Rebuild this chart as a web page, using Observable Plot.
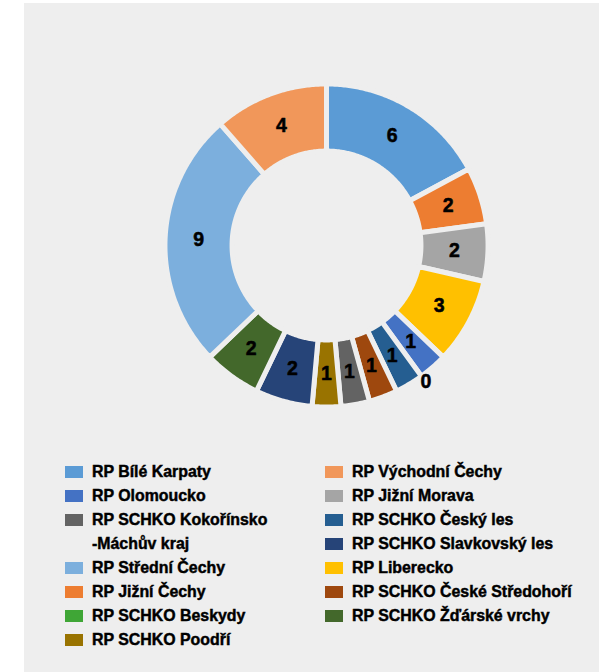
<!DOCTYPE html>
<html><head><meta charset="utf-8">
<script src="https://cdn.jsdelivr.net/npm/d3@7"></script>
<script src="https://cdn.jsdelivr.net/npm/@observablehq/plot@0.6"></script>
<style>
body{margin:0;background:#fff;width:601px;height:672px;overflow:hidden;position:relative;font-family:"Liberation Sans",Arial,sans-serif;}
#panel{position:absolute;left:24px;top:3px;width:575px;height:669px;background:#eeeeee;}
#chart{position:absolute;left:0;top:0;}
.col{position:absolute;top:460px;}
.item{display:flex;align-items:flex-start;font-weight:bold;font-size:15.9px;line-height:24px;color:#000;white-space:pre;-webkit-text-stroke:0.45px #000;}
.sw{width:18px;height:12px;margin-top:6px;margin-right:9px;flex:none;}
</style></head><body>
<div id="panel"></div><div id="chart"></div>
<div class="col" id="legL" style="left:65px"></div>
<div class="col" id="legR" style="left:325px"></div>
<script>
const categories = ["RP Bílé Karpaty","RP Jižní Čechy","RP Jižní Morava","RP Liberecko","RP Olomoucko","RP SCHKO Beskydy","RP SCHKO Český les","RP SCHKO České Středohoří","RP SCHKO Kokořínsko\n-Máchův kraj","RP SCHKO Poodří","RP SCHKO Slavkovský les","RP SCHKO Žďárské vrchy","RP Střední Čechy","RP Východní Čechy"];
const values = [6,2,2,3,1,0,1,1,1,1,2,2,9,4];
const colors = ["#5B9BD5","#ED7D31","#A5A5A5","#FFC000","#4472C4","#3FA636","#255E91","#9E480E","#636363","#997300","#264478","#43682B","#7CAFDD","#F1975A"];
const legendLeft = ["RP Bílé Karpaty","RP Olomoucko","RP SCHKO Kokořínsko\n-Máchův kraj","RP Střední Čechy","RP Jižní Čechy","RP SCHKO Beskydy","RP SCHKO Poodří"];
const legendRight = ["RP Východní Čechy","RP Jižní Morava","RP SCHKO Český les","RP SCHKO Slavkovský les","RP Liberecko","RP SCHKO České Středohoří","RP SCHKO Žďárské vrchy"];

const total = d3.sum(values);
let acc = 0;
const slices = categories.map((name, i) => {
  const a0 = acc / total * 2 * Math.PI; acc += values[i];
  const a1 = acc / total * 2 * Math.PI;
  return {name, value: values[i], a0, a1};
});
const R_OUT = 1.016, R_IN = 0.594;
const poly = [];
slices.filter(s => s.value > 0).forEach(s => {
  const n = Math.max(2, Math.ceil((s.a1 - s.a0) / 0.01));
  for (let k = 0; k <= n; k++) { const a = s.a0 + (s.a1 - s.a0) * k / n; poly.push({name: s.name, x: R_OUT * Math.sin(a), y: R_OUT * Math.cos(a)}); }
  for (let k = n; k >= 0; k--) { const a = s.a0 + (s.a1 - s.a0) * k / n; poly.push({name: s.name, x: R_IN * Math.sin(a), y: R_IN * Math.cos(a)}); }
});
const labels = slices.map(s => {
  const a = (s.a0 + s.a1) / 2; const r = s.value > 0 ? 0.805 : 1.063;
  return {name: s.name, value: s.value, x: r * Math.sin(a), y: r * Math.cos(a)};
});

const chart = Plot.plot({
  width: 601, height: 440, margin: 0,
  x: {domain: [-1, 1], range: [167, 485], axis: null},
  y: {domain: [-1, 1], range: [404, 86], axis: null},
  color: {domain: categories, range: colors},
  style: {background: "none", overflow: "visible", fontFamily: "'Liberation Sans', Arial, sans-serif"},
  marks: [
    Plot.line(poly, {x: "x", y: "y", z: "name", fill: "name", stroke: "#eeeeee", strokeWidth: 5, curve: "linear-closed"}),
    Plot.text(labels, {x: "x", y: "y", text: d => String(d.value), fontSize: 19.5, fontWeight: "bold", fill: "#000", stroke: "#000", strokeWidth: 0.5})
  ]
});
document.getElementById("chart").appendChild(chart);

const colorOf = new Map(categories.map((c, i) => [c, colors[i]]));
function legend(id, names) {
  const el = document.getElementById(id);
  names.forEach(n => {
    const it = document.createElement("div"); it.className = "item";
    const sw = document.createElement("div"); sw.className = "sw"; sw.style.background = colorOf.get(n);
    const t = document.createElement("div"); t.textContent = n;
    it.appendChild(sw); it.appendChild(t); el.appendChild(it);
  });
}
legend("legL", legendLeft);
legend("legR", legendRight);
</script>
</body></html>
